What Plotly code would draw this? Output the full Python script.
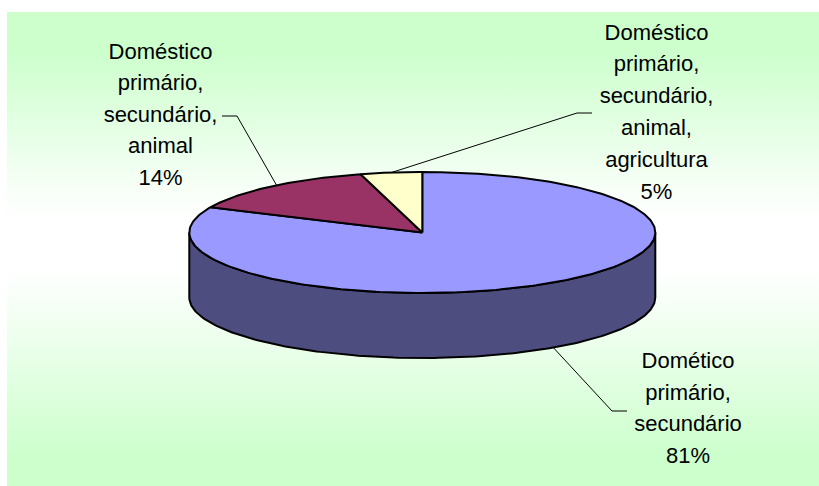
import numpy as np
import plotly.graph_objects as go

# Shares of each water-use group, in drawing order from twelve o'clock, counter-clockwise
slice_lines = [
    ["Doméstico", "primário,", "secundário,", "animal,", "agricultura"],
    ["Doméstico", "primário,", "secundário,", "animal"],
    ["Dométic" + "o", "primário,", "secundário"],
]
slice_percent = [5, 14, 81]

# Colours
top_colors = ["#FFFFCC", "#993366", "#9999FF"]
wall_color = "#4D4D80"
panel_scale = [
    [0, "#CCFFCC"], [0.06, "#CCFFCC"], [0.42, "#FBFFFB"], [0.46, "#FFFFFF"],
    [0.56, "#FFFFFF"], [0.60, "#FBFFFB"], [0.92, "#CCFFCC"], [1, "#CCFFCC"],
]

# Disc geometry, in page pixels
CX, CY, RX, RY, DEPTH = 422.3, 232.5, 233, 60.5, 65
PANEL = (7, 12, 819, 486)

# Label block: centre x, first line y, line pitch, leader elbow and end
label_layout = [
    dict(x=656.5, y=34, pitch=31.8, elbow=(577, 113), end=(592, 113)),
    dict(x=160.5, y=53, pitch=31.6, elbow=(237, 116), end=(222, 116)),
    dict(x=688, y=362.5, pitch=31.6, elbow=(612, 411), end=(627, 411)),
]
FONT = dict(family="Liberation Sans, Arial, sans-serif", size=22, color="#000000")


def eccentric(theta):
    # Perspective of the tilted disc pulls the far-side angles slightly towards the back
    theta = np.asarray(theta, dtype=float)
    back = np.cos(theta) > 0
    return theta - np.where(back, np.radians(4.5) * np.sin(2 * theta), 0.0)


def rim(theta, drop=0.0):
    t = eccentric(theta)
    return CX - RX * np.sin(t), CY - RY * np.cos(t) + drop


fig = go.Figure()

# Background panel with the green-white-green gradient
x0, y0, x1, y1 = PANEL
fig.add_trace(go.Scatter(
    x=[x0, x1, x1, x0, x0], y=[y0, y0, y1, y1, y0], mode="lines", fill="toself",
    line=dict(width=0), hoverinfo="skip",
    fillgradient=dict(type="vertical", colorscale=panel_scale),
))

# Visible front wall of the disc
front = np.radians(np.linspace(90, 270, 181))
lx, ly = rim(front)
bx, by = rim(front[::-1], DEPTH)
fig.add_trace(go.Scatter(
    x=np.r_[lx, bx, lx[0]], y=np.r_[ly, by, ly[0]], mode="lines", fill="toself",
    fillcolor=wall_color, line=dict(color="#000000", width=2), hoverinfo="skip",
))

# Leader lines, anchored on the rim at each slice's mid-angle
edges = np.cumsum([0] + slice_percent) / sum(slice_percent) * 2 * np.pi
for i, spec in enumerate(label_layout):
    mid = (edges[i] + edges[i + 1]) / 2
    drop = DEPTH if np.cos(mid) < 0 else 0.0
    ax, ay = rim(mid, drop)
    fig.add_trace(go.Scatter(
        x=[float(ax), spec["elbow"][0], spec["end"][0]],
        y=[float(ay), spec["elbow"][1], spec["end"][1]],
        mode="lines", line=dict(color="#000000", width=1), hoverinfo="skip",
    ))

# Top faces of the slices; largest first so the small ones sit on top
for i in [2, 1, 0]:
    arc = np.linspace(edges[i], edges[i + 1], max(int(slice_percent[i] * 4), 12))
    ex, ey = rim(arc)
    fig.add_trace(go.Scatter(
        x=np.r_[CX, ex, CX], y=np.r_[CY, ey, CY], mode="lines", fill="toself",
        fillcolor=top_colors[i], line=dict(color="#000000", width=2), hoverinfo="skip",
    ))

# Slice labels, one text per line to keep the wide line pitch
for lines, pct, spec in zip(slice_lines, slice_percent, label_layout):
    rows = lines + [f"{pct}%"]
    fig.add_trace(go.Scatter(
        x=[spec["x"]] * len(rows),
        y=[spec["y"] + k * spec["pitch"] for k in range(len(rows))],
        text=rows, mode="text", textposition="middle center",
        textfont=FONT, hoverinfo="skip",
    ))

fig.update_layout(
    width=819, height=486, margin=dict(l=0, r=0, t=0, b=0),
    paper_bgcolor="#FFFFFF", plot_bgcolor="#FFFFFF", showlegend=False,
    xaxis=dict(range=[0, 819], visible=False, fixedrange=True),
    yaxis=dict(range=[486, 0], visible=False, fixedrange=True),
)
fig.write_html("out.html", config=dict(displayModeBar=False))
